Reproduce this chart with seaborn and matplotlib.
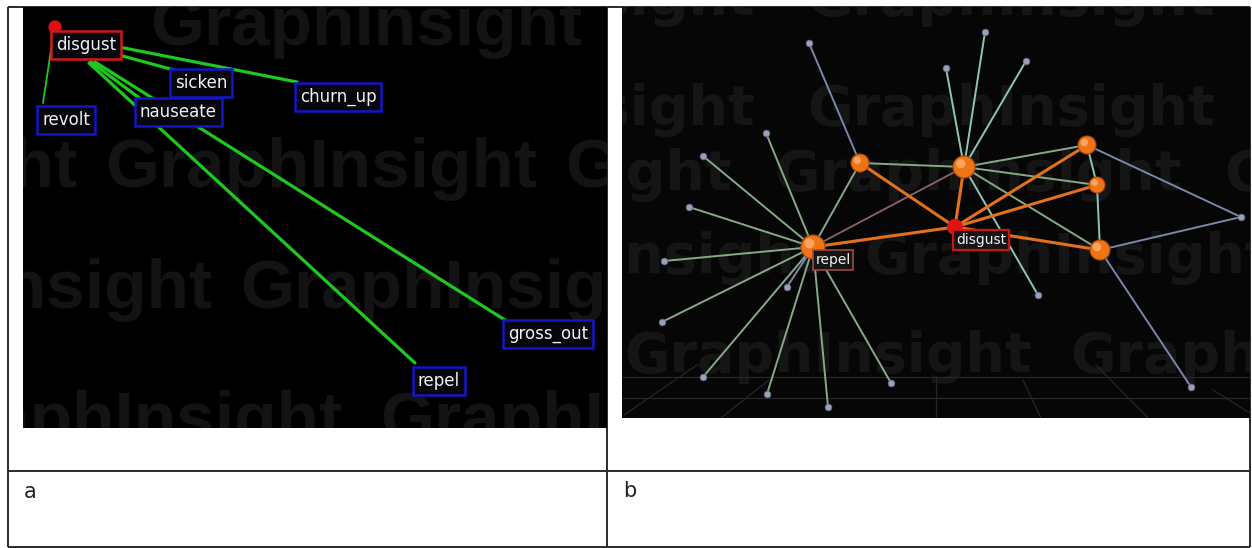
import matplotlib
matplotlib.use('Agg')
import matplotlib.pyplot as plt
import seaborn as sns
import pandas as pd

sns.set_theme(style="white")
plt.rcParams['font.family'] = ['DejaVu Sans']

W, H = 1252, 548  # canvas in pixels, all coordinates below are screenshot pixels

# ---------------- panel a: 2D view ----------------
a_labels = ['disgust', 'sicken', 'churn_up', 'revolt', 'nauseate', 'gross_out', 'repel']
a_label_x = [86, 201, 338, 66, 178, 548, 439]
a_label_y = [45, 83, 97, 120, 112, 334, 381]
a_root_x = [55]
a_root_y = [27]
# edges from disgust to every neighbour (start / end of each segment)
a_edge_to = ['revolt', 'sicken', 'churn_up', 'nauseate', 'repel', 'gross_out']
a_edge_x0 = [54, 119, 119, 91, 89, 95]
a_edge_y0 = [30, 55, 47, 62, 63, 62]
a_edge_x1 = [43, 174, 297, 142, 415, 505]
a_edge_y1 = [103, 70, 82, 100, 363, 320]

# ---------------- panel b: 3D view ----------------
b_hubs = ['repel', 'h1', 'h2', 'h3', 'h4', 'h5']
b_hub_x = [813, 860, 964, 1087, 1097, 1100]
b_hub_y = [247, 163, 167, 145, 185, 250]
b_centre = ['disgust']
b_centre_x = [955]
b_centre_y = [227]
b_leaves = ['l%d' % i for i in range(1, 18)]
b_leaf_x = [766, 703, 689, 664, 662, 703, 767, 828, 891, 787, 809, 946, 985, 1026, 1038, 1191, 1241]
b_leaf_y = [133, 156, 207, 261, 322, 377, 394, 407, 383, 287, 43, 68, 32, 61, 295, 387, 217]

b_edges_green = [('repel', 'l1'), ('repel', 'l2'), ('repel', 'l3'), ('repel', 'l4'),
                 ('repel', 'l5'), ('repel', 'l6'), ('repel', 'l7'), ('repel', 'l8'),
                 ('repel', 'l9'), ('repel', 'h1'), ('h1', 'h2'), ('h2', 'h3'),
                 ('h2', 'h4'), ('h2', 'h5')]
b_edges_teal = [('h2', 'l12'), ('h2', 'l13'), ('h2', 'l14'), ('h2', 'l15'),
                ('h3', 'h4'), ('h4', 'h5')]
b_edges_blue = [('repel', 'l10'), ('h1', 'l11'), ('h3', 'l17'), ('h5', 'l17'), ('h5', 'l16')]
b_edges_brown = [('repel', 'h2')]
b_edges_orange = [('repel', 'disgust'), ('h1', 'disgust'), ('h2', 'disgust'),
                  ('disgust', 'h3'), ('disgust', 'h4'), ('disgust', 'h5')]

# faint floor grid of the 3D scene
grid_x0 = [622, 622, 624, 721, 936, 1023, 1096, 1213]
grid_y0 = [377, 398, 415, 418, 378, 380, 365, 390]
grid_x1 = [1250, 1250, 697, 769, 936, 1041, 1148, 1250]
grid_y1 = [377, 398, 365, 380, 418, 418, 418, 413]

# watermark rows: baseline y and left x of each "GraphInsight" word
wm_a_y = [45, 187, 308, 440]
wm_a_x = [[150, 610], [-355, 105, 565], [-220, 240], [-90, 380]]
wm_b_y = [15, 125, 190, 273, 372]
wm_b_x = [[347, 807], [347, 807], [324, 774, 1224], [414, 864], [624, 1070]]

# table layout
table_rows_y = [6.5, 471, 547]
table_cols_x = [8, 607, 1250]
captions = ['a', 'b']
caption_x = [24, 623]
caption_y = [498, 497]

# sphere radii (px) for the hubs, just styling
hub_radius = [12, 9, 11, 9, 8, 10]


def px_rect(x0, y0, x1, y1):
    return [x0 / W, 1 - y1 / H, (x1 - x0) / W, (y1 - y0) / H]


def edge_frame(pairs, pos):
    rows = []
    for k, (s, t) in enumerate(pairs):
        rows.append((k, pos[s][0], pos[s][1]))
        rows.append((k, pos[t][0], pos[t][1]))
    return pd.DataFrame(rows, columns=['edge', 'x', 'y'])


def draw_edges(ax, df, color, lw, z=2):
    sns.lineplot(data=df, x='x', y='y', units='edge', estimator=None, sort=False,
                 color=color, linewidth=lw, ax=ax, zorder=z, legend=False)


def clean(ax, x0, y0, x1, y1, face):
    ax.set_facecolor(face)
    ax.set_xlim(x0, x1)
    ax.set_ylim(y1, y0)
    ax.set_xticks([])
    ax.set_yticks([])
    ax.set_xlabel('')
    ax.set_ylabel('')
    for sp in ax.spines.values():
        sp.set_visible(False)


def watermark(ax, rows_y, rows_x, size, color, family):
    for y, xs in zip(rows_y, rows_x):
        for x in xs:
            ax.text(x, y, 'GraphInsight', fontsize=size, fontweight='bold', color=color,
                    family=family, ha='left', va='baseline', zorder=0.5, clip_on=True)


fig = plt.figure(figsize=(W / 100, H / 100), dpi=100)
fig.patch.set_facecolor('white')

# table frame
ax_bg = fig.add_axes([0, 0, 1, 1])
ax_bg.set_xlim(0, W)
ax_bg.set_ylim(H, 0)
ax_bg.set_axis_off()
ax_bg.hlines(table_rows_y, table_cols_x[0], table_cols_x[-1], color='#2a2a2a', lw=1.4)
ax_bg.vlines(table_cols_x, table_rows_y[0], table_rows_y[-1], color='#2a2a2a', lw=1.4)
for t, x, y in zip(captions, caption_x, caption_y):
    ax_bg.text(x, y, t, fontsize=15, color='#222222', ha='left', va='baseline')

# ---- panel a ----
ax_a = fig.add_axes(px_rect(23, 7, 607, 428))
watermark(ax_a, wm_a_y, wm_a_x, 50, '#131313', ['Liberation Sans', 'DejaVu Sans'])
a_df = pd.DataFrame({'edge': list(range(6)) * 2,
                     'x': a_edge_x0 + a_edge_x1,
                     'y': a_edge_y0 + a_edge_y1})
thin = a_df['edge'] == 0
draw_edges(ax_a, a_df[~thin], '#1ec81e', 2.3)
draw_edges(ax_a, a_df[thin], '#1ec81e', 1.3)
sns.scatterplot(x=a_root_x, y=a_root_y, s=90, color='#e01010', edgecolor='none', ax=ax_a, zorder=3)
for name, x, y in zip(a_labels, a_label_x, a_label_y):
    ec = '#d01818' if name == 'disgust' else '#1515c8'
    ax_a.text(x, y, name, fontsize=12, color='#f2f2f2', ha='center', va='center', zorder=4,
              bbox=dict(boxstyle='square,pad=0.3', fc='#06060c', ec=ec, lw=1.8))
clean(ax_a, 23, 7, 607, 428, '#000000')

# ---- panel b ----
ax_b = fig.add_axes(px_rect(622, 7, 1250, 418))
watermark(ax_b, wm_b_y, wm_b_x, 40, '#151515', ['DejaVu Sans'])
ax_b.plot([grid_x0, grid_x1], [grid_y0, grid_y1], color='#262626', lw=0.9, zorder=1)

pos = {n: (x, y) for n, x, y in zip(b_hubs, b_hub_x, b_hub_y)}
pos.update({n: (x, y) for n, x, y in zip(b_leaves, b_leaf_x, b_leaf_y)})
pos.update({n: (x, y) for n, x, y in zip(b_centre, b_centre_x, b_centre_y)})

draw_edges(ax_b, edge_frame(b_edges_green, pos), '#86aa88', 1.4)
draw_edges(ax_b, edge_frame(b_edges_teal, pos), '#8cc6b6', 1.4)
draw_edges(ax_b, edge_frame(b_edges_blue, pos), '#7a86aa', 1.4)
draw_edges(ax_b, edge_frame(b_edges_brown, pos), '#8a6466', 1.3)
draw_edges(ax_b, edge_frame(b_edges_orange, pos), '#e2701c', 2.2, z=2.5)

sns.scatterplot(x=b_leaf_x, y=b_leaf_y, s=24, color='#9aa0ba', edgecolor='#5a607a',
                linewidth=0.5, ax=ax_b, zorder=3)
hub_s = [(2 * r * 0.72) ** 2 for r in hub_radius]
sns.scatterplot(x=b_hub_x, y=b_hub_y, s=hub_s, color='#ee7416', edgecolor='#a84808',
                linewidth=0.8, ax=ax_b, zorder=4)
# small specular highlight to suggest the shaded spheres
hl_x = [x - 0.3 * r for x, r in zip(b_hub_x, hub_radius)]
hl_y = [y - 0.3 * r for y, r in zip(b_hub_y, hub_radius)]
sns.scatterplot(x=hl_x, y=hl_y, s=[v * 0.18 for v in hub_s], color='#ffb070',
                edgecolor='none', alpha=0.8, ax=ax_b, zorder=4.5)
sns.scatterplot(x=b_centre_x, y=b_centre_y, s=135, color='#e01414', edgecolor='none',
                ax=ax_b, zorder=4)
ax_b.text(981, 240, 'disgust', fontsize=10, color='#f2f2f2', ha='center', va='center', zorder=5,
          bbox=dict(boxstyle='square,pad=0.2', fc='#151515', ec='#cc1414', lw=1.6))
ax_b.text(833, 260, 'repel', fontsize=10, color='#f2f2f2', ha='center', va='center', zorder=5,
          bbox=dict(boxstyle='square,pad=0.2', fc='#151515', ec='#9a4a40', lw=1.2))
clean(ax_b, 622, 7, 1250, 418, '#060606')

fig.savefig('out.png', dpi=100)
plt.close(fig)
